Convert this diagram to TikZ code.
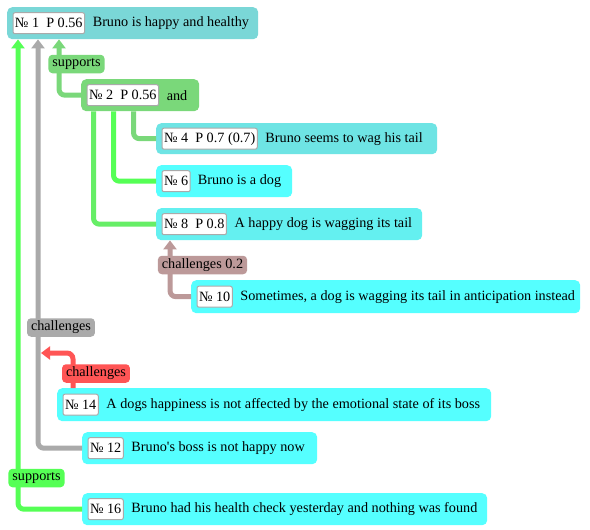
\documentclass[tikz,border=0pt]{standalone}
\usepackage{fontspec}
\setmainfont{Liberation Serif}[Ligatures=TeXOff]
\usetikzlibrary{arrows.meta,calc}
\definecolor{cA}{RGB}{122,215,215}
\definecolor{cB}{RGB}{110,228,228}
\definecolor{cC}{RGB}{85,255,255}
\definecolor{cD}{RGB}{100,240,240}
\definecolor{gA}{RGB}{122,216,122}
\definecolor{gB}{RGB}{85,255,85}
\definecolor{gC}{RGB}{102,238,102}
\definecolor{grayL}{RGB}{170,170,170}
\definecolor{rosy}{RGB}{188,153,153}
\definecolor{redL}{RGB}{255,85,85}
\definecolor{idgray}{RGB}{170,170,170}
\begin{document}
\begin{tikzpicture}[x=1pt,y=-1pt,font=\fontsize{14.2}{16}\selectfont,
  claim/.style={rounded corners=5pt,minimum height=32pt,anchor=north west,inner sep=0pt},
  idbox/.style={fill=white,draw=idgray,line width=1pt,rounded corners=2pt,inner xsep=2pt,inner ysep=0pt,minimum height=21pt,anchor=west},
  ctext/.style={inner sep=0pt,anchor=west},
  tag/.style={rounded corners=4pt,inner xsep=4pt,inner ysep=0pt,minimum height=18.5pt},
  link/.style={line width=5pt,rounded corners=6pt},
  tip/.style={-{Triangle[width=13pt,length=9pt]}}]
\useasboundingbox (0,0) rectangle (590,530);
\fill[white] (0,0) rectangle (590,530);

% claim boxes
\node[claim,fill=cA,minimum width=251pt] (n1) at (7,7) {};
\node[idbox] (n1id) at ([xshift=5.5pt]n1.west) {№ 1\ \ P 0.56};
\node[ctext] (n1t) at ([xshift=7.5pt]n1id.east) {Bruno is happy and healthy};

\node[claim,fill=gA,minimum width=118pt] (n2) at (81,79) {};
\node[idbox] (n2id) at ([xshift=5.5pt]n2.west) {№ 2\ \ P 0.56};
\node[ctext] (n2t) at ([xshift=7.5pt]n2id.east) {and};

\node[claim,fill=cB,minimum width=281pt,minimum height=31pt] (n4) at (156,123) {};
\node[idbox] (n4id) at ([xshift=5.5pt]n4.west) {№ 4\ \ P 0.7 (0.7)};
\node[ctext] (n4t) at ([xshift=7.5pt]n4id.east) {Bruno seems to wag his tail};

\node[claim,fill=cC,minimum width=136pt] (n6) at (156,165) {};
\node[idbox] (n6id) at ([xshift=5.5pt]n6.west) {№ 6};
\node[ctext] (n6t) at ([xshift=7pt]n6id.east) {Bruno is a dog};

\node[claim,fill=cD,minimum width=266pt] (n8) at (156,208) {};
\node[idbox] (n8id) at ([xshift=5.5pt]n8.west) {№ 8\ \ P 0.8};
\node[ctext] (n8t) at ([xshift=7.5pt]n8id.east) {A happy dog is wagging its tail};

\node[claim,fill=cC,minimum width=389pt,minimum height=33pt] (n10) at (191,280) {};
\node[idbox] (n10id) at ([xshift=5.5pt]n10.west) {№ 10};
\node[ctext] (n10t) at ([xshift=7.5pt]n10id.east) {Sometimes, a dog is wagging its tail in anticipation instead};

\node[claim,fill=cC,minimum width=434pt,minimum height=33pt] (n14) at (57,388) {};
\node[idbox] (n14id) at ([xshift=5.5pt]n14.west) {№ 14};
\node[ctext] (n14t) at ([xshift=7.5pt]n14id.east) {A dogs happiness is not affected by the emotional state of its boss};

\node[claim,fill=cC,minimum width=235pt] (n12) at (82,432) {};
\node[idbox] (n12id) at ([xshift=5.5pt]n12.west) {№ 12};
\node[ctext] (n12t) at ([xshift=7.5pt]n12id.east) {Bruno's boss is not happy now};

\node[claim,fill=cC,minimum width=405pt] (n16) at (82,493) {};
\node[idbox] (n16id) at ([xshift=5.5pt]n16.west) {№ 16};
\node[ctext] (n16t) at ([xshift=7.5pt]n16id.east) {Bruno had his health check yesterday and nothing was found};

% connectors
\coordinate (redtip) at (41,353);
\draw[link,draw=gA,tip] (n2.west) -| ([xshift=52pt]n1.south west);
\draw[link,draw=gA] (n4.west) -| ([xshift=52.5pt]n2.south west);
\draw[link,draw=gB] (n6.west) -| ([xshift=32.5pt]n2.south west);
\draw[link,draw=gC] (n8.west) -| ([xshift=12.5pt]n2.south west);
\draw[link,draw=rosy,tip] (n10.west) -| ([xshift=14pt]n8.south west);
\draw[link,draw=grayL,tip] (n12.west) -| ([xshift=31pt]n1.south west);
\draw[link,draw=redL,tip] ([xshift=16pt]n14.north west) |- (redtip);
\draw[link,draw=gB,tip] (n16.west) -| ([xshift=11pt]n1.south west);

% labels
\node[tag,fill=gA] (l1) at (76.5,64) {supports};
\node[tag,fill=rosy] (l2) at (202.5,265) {challenges 0.2};
\node[tag,fill=grayL] (l3) at (61,327.5) {challenges};
\node[tag,fill=redL] (l4) at (96,373.5) {challenges};
\node[tag,fill=gB] (l5) at (36.5,478) {supports};
\end{tikzpicture}
\end{document}
